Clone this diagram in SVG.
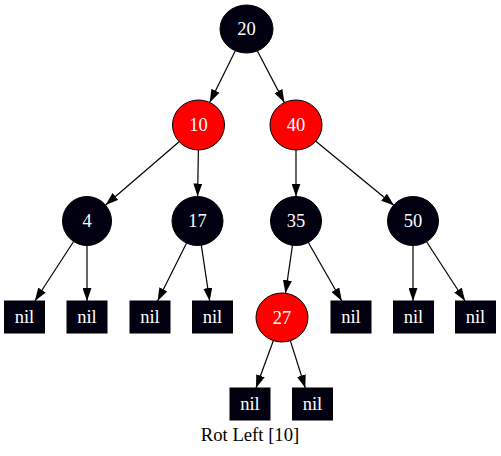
<svg xmlns="http://www.w3.org/2000/svg" width="501" height="456" viewBox="0 0 501 456">
<style>
.blk{fill:#000011;stroke:#000000;stroke-width:1}
.red{fill:#ff0000;stroke:#000000;stroke-width:1}
.t{font-family:"Liberation Serif","Times New Roman",serif;font-size:18.5px;fill:#ffffff;text-anchor:middle}
.lbl{font-family:"Liberation Serif","Times New Roman",serif;font-size:18.67px;fill:#000000;text-anchor:middle}
.e{stroke:#000000;stroke-width:1.2;fill:none;marker-end:url(#ah)}
</style>
<defs>
<marker id="ah" markerUnits="userSpaceOnUse" markerWidth="13" markerHeight="9" refX="13" refY="4.5" orient="auto">
<path d="M0,0 L13,4.5 L0,9 z" fill="#000000"/>
</marker>
</defs>
<rect width="501" height="456" fill="#ffffff"/>
<g id="edges">
<line class="e" x1="235.2" y1="50.9" x2="209.7" y2="102.4"/>
<line class="e" x1="257.3" y1="50.7" x2="284.4" y2="102.6"/>
<line class="e" x1="179.1" y1="141.7" x2="105.6" y2="205"/>
<line class="e" x1="198.4" y1="150" x2="197.6" y2="196.5"/>
<line class="e" x1="296" y1="150" x2="296" y2="196.5"/>
<line class="e" x1="315.8" y1="141.2" x2="394.1" y2="205.5"/>
<line class="e" x1="73.6" y1="241.5" x2="34.9" y2="301"/>
<line class="e" x1="87" y1="245.5" x2="87" y2="301"/>
<line class="e" x1="186.6" y1="243" x2="157.6" y2="301"/>
<line class="e" x1="201.3" y1="245.2" x2="209.7" y2="301"/>
<line class="e" x1="292.5" y1="245.2" x2="285.5" y2="293.2"/>
<line class="e" x1="308.2" y1="242.3" x2="341.8" y2="301"/>
<line class="e" x1="413" y1="245.5" x2="413" y2="301"/>
<line class="e" x1="426.4" y1="241.5" x2="465.1" y2="301"/>
<line class="e" x1="273.4" y1="340.5" x2="256" y2="388"/>
<line class="e" x1="290.3" y1="340.6" x2="305.3" y2="388"/>
</g>
<g id="n20"><ellipse class="blk" cx="246.5" cy="29" rx="26.5" ry="24"/><text class="t" x="246.5" y="35">20</text></g>
<g id="n10"><ellipse class="red" cx="198.5" cy="125" rx="26" ry="25"/><text class="t" x="198.5" y="131">10</text></g>
<g id="n40"><ellipse class="red" cx="296" cy="125" rx="26" ry="25"/><text class="t" x="296" y="131">40</text></g>
<g id="n4"><ellipse class="blk" cx="87" cy="221" rx="24.5" ry="24.5"/><text class="t" x="87" y="227">4</text></g>
<g id="n17"><ellipse class="blk" cx="197.5" cy="221" rx="25.5" ry="24.5"/><text class="t" x="197.5" y="227">17</text></g>
<g id="n35"><ellipse class="blk" cx="296" cy="221" rx="25.5" ry="24.5"/><text class="t" x="296" y="227">35</text></g>
<g id="n50"><ellipse class="blk" cx="413" cy="221" rx="25.5" ry="24.5"/><text class="t" x="413" y="227">50</text></g>
<g id="n27"><ellipse class="red" cx="282" cy="317.5" rx="26" ry="24.5"/><text class="t" x="282" y="323.5">27</text></g>
<g id="nil1"><rect class="blk" x="4.5" y="301" width="40" height="32"/><text class="t" x="24.5" y="322.5">nil</text></g>
<g id="nil2"><rect class="blk" x="67" y="301" width="40" height="32"/><text class="t" x="87" y="322.5">nil</text></g>
<g id="nil3"><rect class="blk" x="130" y="301" width="40" height="32"/><text class="t" x="150" y="322.5">nil</text></g>
<g id="nil4"><rect class="blk" x="192.5" y="301" width="40" height="32"/><text class="t" x="212.5" y="322.5">nil</text></g>
<g id="nil5"><rect class="blk" x="331" y="301" width="40" height="32"/><text class="t" x="351" y="322.5">nil</text></g>
<g id="nil6"><rect class="blk" x="393.5" y="301" width="40" height="32"/><text class="t" x="413.5" y="322.5">nil</text></g>
<g id="nil7"><rect class="blk" x="455.5" y="301" width="40" height="32"/><text class="t" x="475.5" y="322.5">nil</text></g>
<g id="nil8"><rect class="blk" x="230" y="388" width="40" height="32"/><text class="t" x="250" y="409.5">nil</text></g>
<g id="nil9"><rect class="blk" x="292.5" y="388" width="40" height="32"/><text class="t" x="312.5" y="409.5">nil</text></g>
<text class="lbl" x="250" y="441">Rot Left [10]</text>
</svg>
